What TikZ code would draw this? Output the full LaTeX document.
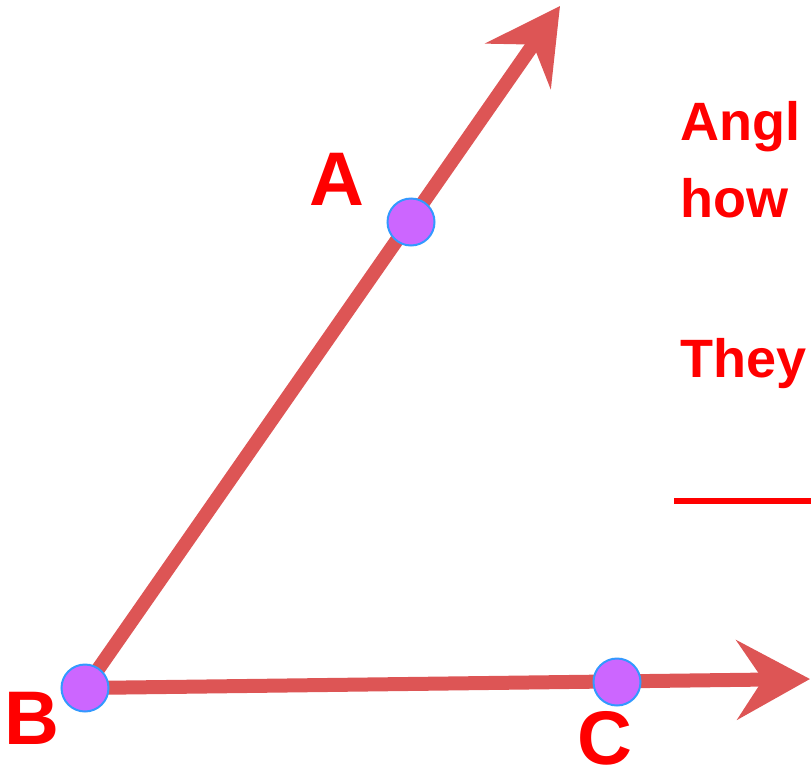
\documentclass[tikz,border=0pt]{standalone}
\usepackage{fontspec}
\setmainfont{Liberation Sans}
\usetikzlibrary{arrows.meta}
\definecolor{raycol}{RGB}{221,85,85}
\definecolor{dotfill}{RGB}{204,102,255}
\definecolor{dotline}{RGB}{51,153,255}
\definecolor{txtred}{RGB}{255,0,0}
\tikzset{
  ray/.style={draw=raycol, line width=14pt, -{Stealth[length=73pt, width=79pt, inset=26pt]}},
  pt/.style={circle, fill=dotfill, draw=dotline, line width=2pt, minimum size=47pt, inner sep=0pt},
  lbl/.style={text=txtred, font=\bfseries\fontsize{76}{76}\selectfont, inner sep=0pt},
  body/.style={text=txtred, font=\bfseries\fontsize{54}{54}\selectfont, inner sep=0pt, anchor=base west},
}
\begin{document}
\begin{tikzpicture}[x=1pt,y=1pt]
\useasboundingbox (0,0) rectangle (811,-782);
\coordinate (tA) at (560,-6);
\coordinate (tC) at (810,-679);
\coordinate (Bc) at (85,-688);
\draw[ray] (Bc) -- (tA);
\draw[ray] (Bc) -- (tC);
\node[pt] (B) at (Bc) {};
\node[pt] (A) at (411,-222) {};
\node[pt] (C) at (617,-682) {};
\node[lbl] (la) at (337,-179) {A};
\node[lbl] (lb) at (32,-718) {B};
\node[lbl] (lc) at (605,-738) {C};
\node[body] (t1) at (680,-140) {Angl};
\node[body] (t2) at (680,-217) {how};
\node[body] (t3) at (680,-377) {They};
\coordinate (l1) at (674,-501);
\coordinate (l2) at (811,-501);
\draw[txtred, line width=6pt] (l1) -- (l2);
\end{tikzpicture}
\end{document}
